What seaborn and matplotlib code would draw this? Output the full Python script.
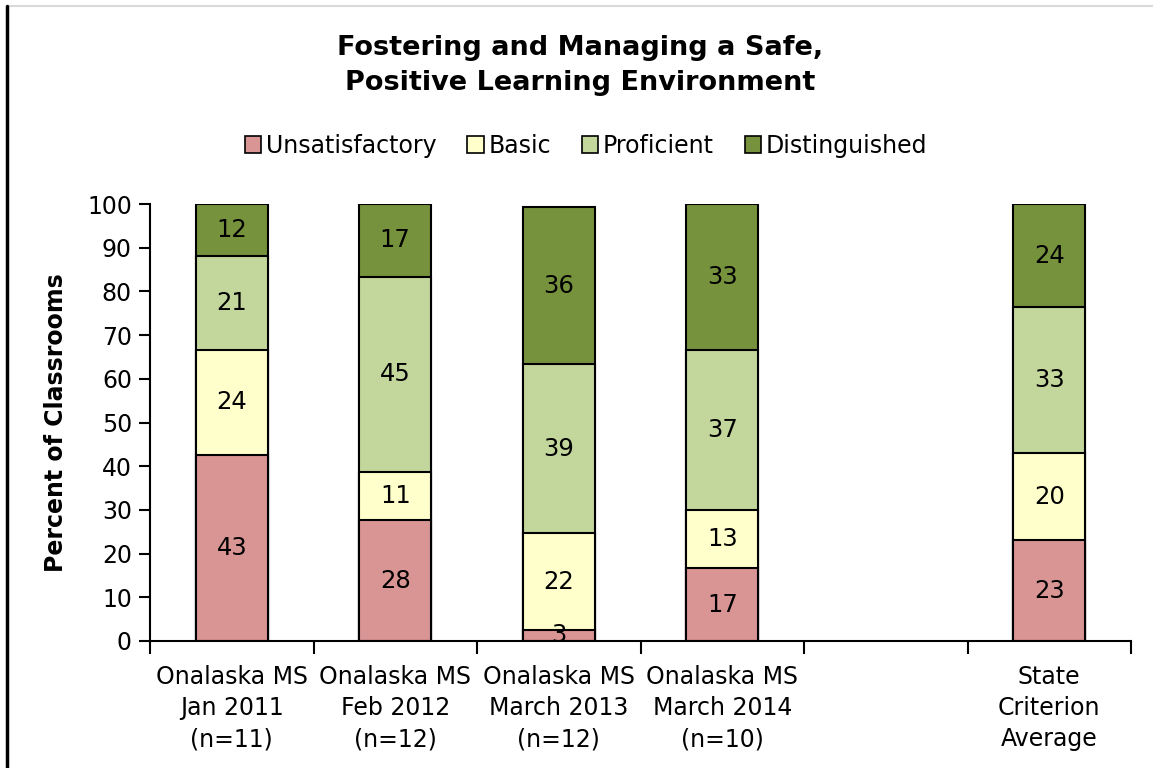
import numpy as np
import pandas as pd
import matplotlib
matplotlib.use("Agg")
import matplotlib.pyplot as plt
import seaborn as sns
from matplotlib.patches import Patch
from matplotlib.lines import Line2D

# ---- data ----
categories = ["Onalaska MS\nJan 2011\n(n=11)",
              "Onalaska MS\nFeb 2012\n(n=12)",
              "Onalaska MS\nMarch 2013\n(n=12)",
              "Onalaska MS\nMarch 2014\n(n=10)",
              "State\nCriterion\nAverage"]
slot_order = categories[:4] + [" "] + categories[4:]   # empty 5th slot
series = ["Unsatisfactory", "Basic", "Proficient", "Distinguished"]
unsatisfactory = [42.6, 27.6, 2.6, 16.7, 23.0]
basic = [24.1, 11.1, 22.0, 13.3, 20.0]
proficient = [21.3, 44.6, 38.7, 36.7, 33.4]
distinguished = [12.0, 16.7, 36.0, 33.3, 23.6]
colors = ["#D99594", "#FFFFCC", "#C3D69B", "#76923C"]

values = [unsatisfactory, basic, proficient, distinguished]

sns.set_theme(style="white")
plt.rcParams["font.family"] = ["DejaVu Sans"]
plt.rcParams["text.color"] = "black"
plt.rcParams["axes.labelcolor"] = "black"
plt.rcParams["xtick.color"] = "black"
plt.rcParams["ytick.color"] = "black"

fig = plt.figure(figsize=(11.53, 7.68), dpi=100)
ax = fig.add_axes([150/1153, 1-641/768, (1131-150)/1153, (641-204)/768])

cum = np.cumsum(np.array(values), axis=0)
# draw tallest cumulative first so lower segments overlay
for i in range(len(series)-1, -1, -1):
    df = pd.DataFrame({"cat": categories, "val": cum[i]})
    sns.barplot(data=df, x="cat", y="val", order=slot_order, color=colors[i],
                saturation=1, width=0.44, edgecolor="black", linewidth=1.5,
                ax=ax, errorbar=None)

# segment labels
for j, cat in enumerate(categories):
    xpos = slot_order.index(cat)
    bottom = 0
    for i in range(len(series)):
        v = values[i][j]
        ax.text(xpos, bottom + v/2, f"{round(v):d}", ha="center", va="center",
                fontsize=17.5, color="black")
        bottom += v

ax.set_ylim(0, 100)
ax.set_xlim(-0.5, 5.5)
ax.set_yticks(np.arange(0, 101, 10))
ax.tick_params(axis="y", labelsize=17, length=8, width=1.5, direction="out",
               left=True, color="black", pad=5, labelcolor="black")
ax.set_xticks(range(6))
ax.set_xticklabels(slot_order, linespacing=1.38)
ax.tick_params(axis="x", which="major", length=0, labelsize=17, pad=17, labelcolor="black")
ax.set_xticks(np.arange(-0.5, 6, 1), minor=True)
ax.tick_params(axis="x", which="minor", length=9, width=1.5, direction="out",
               bottom=True, color="black")
ax.set_xlabel("")
ax.set_ylabel("Percent of Classrooms", fontsize=17, fontweight="bold", labelpad=14,
              color="black")
for s in ["top", "right"]:
    ax.spines[s].set_visible(False)
for s in ["left", "bottom"]:
    ax.spines[s].set_color("black")
    ax.spines[s].set_linewidth(1.5)
ax.grid(False)

fig.text(580/1153, 1-65.5/768, "Fostering and Managing a Safe,\nPositive Learning Environment",
         ha="center", va="center", fontsize=19.5, fontweight="bold", linespacing=1.45,
         color="black")

handles = [Patch(facecolor=c, edgecolor="black", linewidth=1.2) for c in colors]
fig.legend(handles, series, loc="center", bbox_to_anchor=(586/1153, 1-146/768),
           ncol=4, frameon=False, fontsize=17, handlelength=0.7, handleheight=0.7,
           handletextpad=0.2, columnspacing=1.3, labelcolor="black")

fig.add_artist(Line2D([7/1153, 1], [1-6/768, 1-6/768], color="#D9D9D9", linewidth=1.5,
                      transform=fig.transFigure))
fig.add_artist(Line2D([7/1153, 7/1153], [0, 1-6/768], color="black", linewidth=2.5,
                      transform=fig.transFigure))

fig.savefig("out.png", dpi=100)
